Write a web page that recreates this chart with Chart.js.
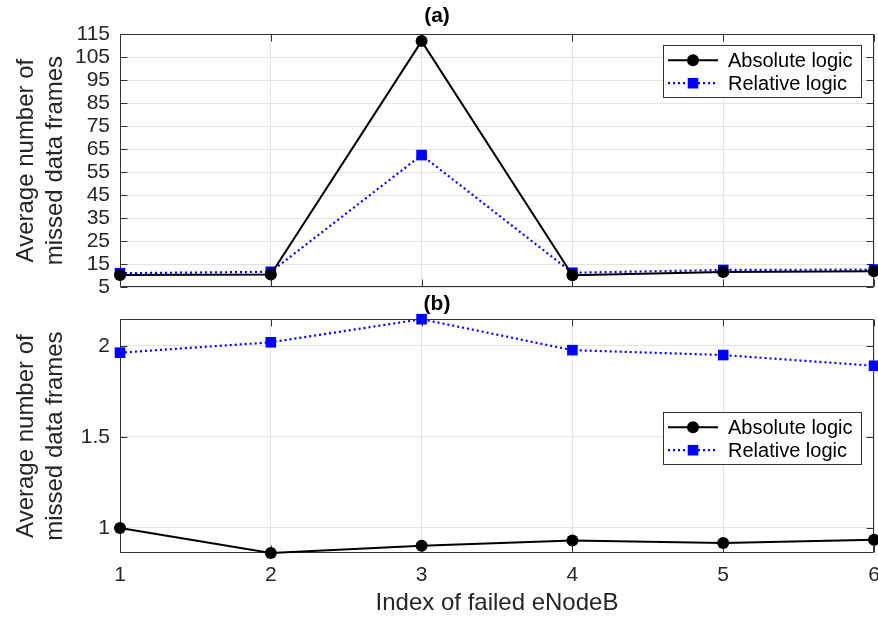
<!DOCTYPE html>
<html>
<head>
<meta charset="utf-8">
<script src="https://cdn.jsdelivr.net/npm/chart.js@4.4.1/dist/chart.umd.min.js"></script>
<style>
  html, body { margin: 0; padding: 0; background: #fff; overflow: hidden; }
  #wrapA { position: absolute; left: 0; top: 0; width: 878px; height: 302px; }
  #wrapB { position: absolute; left: 0; top: 290px; width: 878px; height: 327px; }
</style>
</head>
<body>
<div id="wrapA"><canvas id="chartA"></canvas></div>
<div id="wrapB"><canvas id="chartB"></canvas></div>
<script>
// index of failed eNodeB
const categories = ["1", "2", "3", "4", "5", "6"];

// (a)
const absoluteA = [10.2, 10.4, 112, 10.1, 11.5, 11.9];
const relativeA = [11.0, 11.6, 62.4, 11.2, 12.4, 12.6];
const ticksA = [5, 15, 25, 35, 45, 55, 65, 75, 85, 95, 105, 115];

// (b)
const absoluteB = [0.998, 0.861, 0.901, 0.930, 0.916, 0.934];
const relativeB = [1.962, 2.019, 2.146, 1.976, 1.949, 1.890];
const ticksB = [1, 1.5, 2];

const FONT = "'Liberation Sans', Arial, Helvetica, sans-serif";
const TEXT = "#262626";

// box + inward tick marks like matlab
const boxPlugin = {
  id: "box",
  beforeDatasetsDraw(chart) {
    const ctx = chart.ctx;
    const a = chart.chartArea;
    const l = Math.round(a.left) + 0.5, r = Math.round(a.right) - 0.5;
    const t = Math.round(a.top) + 0.5, b = Math.round(a.bottom) - 0.5;
    ctx.save();
    ctx.strokeStyle = "#333";
    ctx.lineWidth = 1;
    ctx.beginPath();
    chart.scales.y.ticks.forEach((tk) => {
      const y = Math.round(chart.scales.y.getPixelForValue(tk.value)) + 0.5;
      ctx.moveTo(l, y); ctx.lineTo(l + 7, y);
      ctx.moveTo(r, y); ctx.lineTo(r - 7, y);
    });
    chart.scales.x.ticks.forEach((tk, i) => {
      const x = Math.round(chart.scales.x.getPixelForTick(i)) + 0.5;
      ctx.moveTo(x, b); ctx.lineTo(x, b - 7);
      ctx.moveTo(x, t); ctx.lineTo(x, t + 7);
    });
    ctx.rect(l, t, r - l, b - t);
    ctx.stroke();
    ctx.restore();
  },
};

// matlab style legend box
const legendPlugin = {
  id: "mlegend",
  afterDraw(chart, args, opts) {
    const ctx = chart.ctx;
    const a = chart.chartArea;
    const w = 198, h = 52;
    const left = a.right - 13 - w;
    const top = a.top + opts.offset;
    ctx.save();
    ctx.fillStyle = "#fff";
    ctx.fillRect(left, top, w, h);
    ctx.strokeStyle = "#333";
    ctx.lineWidth = 1;
    ctx.strokeRect(Math.round(left) + 0.5, Math.round(top) + 0.5, w, h);
    chart.data.datasets.forEach((ds, i) => {
      const y = top + 15 + i * 23;
      ctx.strokeStyle = ds.borderColor;
      ctx.lineWidth = ds.borderWidth;
      ctx.setLineDash(ds.borderDash || []);
      ctx.beginPath();
      ctx.moveTo(left + 5, y);
      ctx.lineTo(left + 55, y);
      ctx.stroke();
      ctx.setLineDash([]);
      ctx.fillStyle = ds.pointBackgroundColor;
      const cx = left + 30;
      if (ds.pointStyle === "rect") {
        const s = ds.pointRadius * Math.SQRT1_2;
        ctx.fillRect(cx - s, y - s, 2 * s, 2 * s);
      } else {
        ctx.beginPath();
        ctx.arc(cx, y, ds.pointRadius, 0, Math.PI * 2);
        ctx.fill();
      }
      ctx.fillStyle = "#000";
      ctx.font = "20px " + FONT;
      ctx.textBaseline = "middle";
      ctx.textAlign = "left";
      ctx.fillText(ds.label, left + 65, y + 1);
    });
    ctx.restore();
  },
};

function makeDatasets(absVals, relVals) {
  return [
    {
      label: "Absolute logic",
      data: absVals,
      borderColor: "#000",
      borderWidth: 2,
      pointStyle: "circle",
      pointRadius: 6,
      pointBackgroundColor: "#000",
      pointBorderWidth: 0,
      tension: 0,
      clip: false,
    },
    {
      label: "Relative logic",
      data: relVals,
      borderColor: "#0000ff",
      borderWidth: 2.2,
      borderDash: [2, 3],
      pointStyle: "rect",
      pointRadius: 7.5,
      pointBackgroundColor: "#0000ff",
      pointBorderWidth: 0,
      tension: 0,
      clip: false,
    },
  ];
}

function makeOptions(title, titlePad, yTicks, yMin, yMax, showX, xHeight, legendOffset) {
  return {
    responsive: true,
    maintainAspectRatio: false,
    animation: false,
    layout: { autoPadding: false, padding: { left: 0, right: 4, top: 0, bottom: 0 } },
    plugins: {
      legend: { display: false },
      tooltip: { enabled: false },
      title: {
        display: true,
        text: title,
        color: "#000",
        font: { family: FONT, size: 21, weight: "bold" },
        padding: titlePad,
      },
      mlegend: { offset: legendOffset },
    },
    scales: {
      x: {
        grid: { color: "#e3e3e3", drawTicks: false },
        border: { display: false },
        ticks: {
          display: showX,
          color: TEXT,
          padding: 10,
          maxRotation: 0,
          autoSkip: false,
          font: { family: FONT, size: 21 },
        },
        title: {
          display: showX,
          text: "Index of failed eNodeB",
          color: TEXT,
          font: { family: FONT, size: 24, lineHeight: 1.15 },
          padding: { top: 0, bottom: 0 },
        },
        afterFit(scale) {
          scale.height = xHeight;
          scale.paddingLeft = 0;
          scale.paddingRight = 0;
        },
      },
      y: {
        min: yMin,
        max: yMax,
        grid: { color: "#e3e3e3", drawTicks: false },
        border: { display: false },
        afterBuildTicks(scale) { scale.ticks = yTicks.map((v) => ({ value: v })); },
        ticks: {
          color: TEXT,
          padding: 10,
          autoSkip: false,
          font: { family: FONT, size: 21 },
          callback: (v) => String(v),
        },
        title: {
          display: true,
          text: ["Average number of", "missed data frames"],
          color: TEXT,
          font: { family: FONT, size: 24, lineHeight: 1.2 },
          padding: { top: 12, bottom: 0 },
        },
        afterFit(scale) {
          scale.width = 120;
          scale.paddingTop = 0;
          scale.paddingBottom = 0;
        },
      },
    },
  };
}

new Chart(document.getElementById("chartA"), {
  type: "line",
  data: { labels: categories, datasets: makeDatasets(absoluteA, relativeA) },
  options: makeOptions("(a)", { top: 4, bottom: 5 }, ticksA, 5, 115, false, 15, 11),
  plugins: [boxPlugin, legendPlugin],
});

const allB = absoluteB.concat(relativeB);
new Chart(document.getElementById("chartB"), {
  type: "line",
  data: { labels: categories, datasets: makeDatasets(absoluteB, relativeB) },
  options: makeOptions("(b)", { top: 2, bottom: 2 }, ticksB, Math.min(...allB), Math.max(...allB), true, 64, 93),
  plugins: [boxPlugin, legendPlugin],
});
</script>
</body>
</html>
